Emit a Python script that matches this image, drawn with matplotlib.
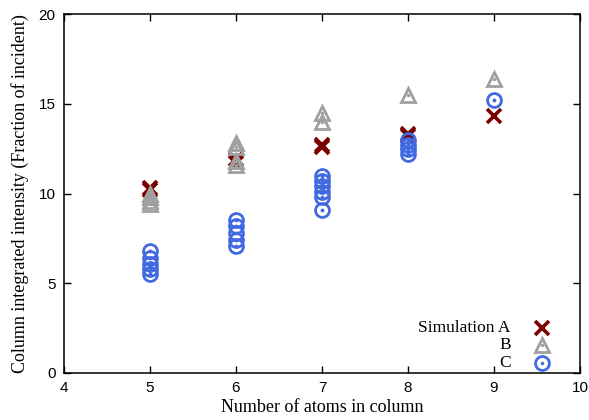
import matplotlib
matplotlib.use('Agg')
import matplotlib.pyplot as plt
import numpy as np

# simulation A (crosses)
a_x = [5, 5, 6, 6, 7, 7, 8, 8, 9]
a_y = [10.3, 10.2, 11.9, 11.7, 12.7, 12.6, 13.3, 13.2, 14.3]

# B (triangles)
b_x = [5, 5, 5, 5, 6, 6, 6, 6, 7, 7, 8, 9]
b_y = [10.0, 9.8, 9.6, 9.4, 12.8, 12.6, 11.8, 11.6, 14.5, 14.0, 15.5, 16.4]

# C (circles)
c_x = [5, 5, 5, 5, 5, 6, 6, 6, 6, 6, 7, 7, 7, 7, 7, 7, 8, 8, 8, 8, 9]
c_y = [6.8, 6.4, 6.1, 5.8, 5.5, 8.5, 8.2, 7.8, 7.4, 7.1,
       11.0, 10.7, 10.4, 10.1, 9.8, 9.1, 13.0, 12.7, 12.5, 12.2, 15.2]

labels = ['Simulation A', 'B', 'C']
col_a = '#7a0000'
col_b = '#a0a0a0'
col_c = '#4169e1'

serif = 'Liberation Serif'
sans = 'Liberation Sans'

fig = plt.figure(figsize=(5.89, 4.2), dpi=100)
ax = fig.add_axes([64/589, 47/420, 516/589, 359/420])

mw = 2.0
ax.plot(a_x, a_y, ls='none', marker='x', ms=10, mew=2.6, color=col_a)
ax.plot(b_x, b_y, ls='none', marker='^', ms=10, mew=mw, mfc='none', color=col_b)
ax.plot(b_x, b_y, ls='none', marker='.', ms=3, color=col_b)
ax.plot(c_x, c_y, ls='none', marker='o', ms=10, mew=mw, mfc='none', color=col_c)
ax.plot(c_x, c_y, ls='none', marker='.', ms=3.5, color=col_c)

ax.set_xlim(4, 10)
ax.set_ylim(0, 20)
ax.set_xticks(np.arange(4, 11, 1))
ax.set_yticks(np.arange(0, 21, 5))
ax.tick_params(direction='in', length=5, width=1, top=True, right=True,
               labelsize=11, pad=6)
for lab in ax.get_xticklabels() + ax.get_yticklabels():
    lab.set_family(sans)
for s in ax.spines.values():
    s.set_linewidth(1.1)

ax.set_xlabel('Number of atoms in column', family=serif, fontsize=13, labelpad=3)
ax.set_ylabel('Column integrated intensity (Fraction of incident)',
              family=serif, fontsize=13, labelpad=7)

# key, gnuplot style
tx = 0.866
mx = 0.926
rows = [0.125, 0.077, 0.029]
styles = [dict(marker='x', ms=10, mew=2.6, color=col_a),
          dict(marker='^', ms=10, mew=mw, mfc='none', color=col_b),
          dict(marker='o', ms=10, mew=mw, mfc='none', color=col_c)]
for lab, ry, st in zip(labels, rows, styles):
    ax.text(tx, ry, lab, transform=ax.transAxes, ha='right', va='center',
            family=serif, fontsize=12.5)
    ax.plot([mx], [ry], ls='none', transform=ax.transAxes, clip_on=False, **st)
    if st['marker'] != 'x':
        ax.plot([mx], [ry], ls='none', marker='.', ms=3, color=st['color'],
                transform=ax.transAxes, clip_on=False)

fig.savefig('out.png', dpi=100)
